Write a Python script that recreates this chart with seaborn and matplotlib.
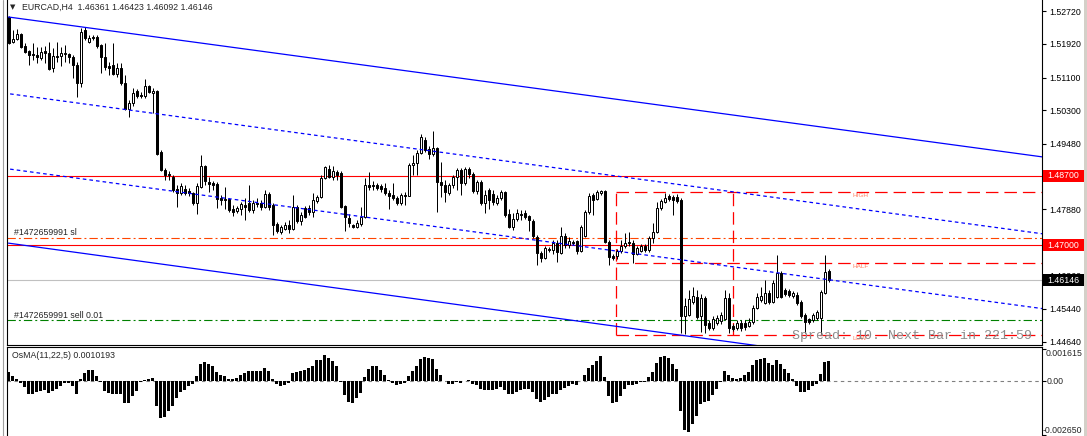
import numpy as np
import pandas as pd
import matplotlib
matplotlib.use("Agg")
import matplotlib.pyplot as plt
import matplotlib.transforms as mtransforms
from matplotlib.patches import Rectangle
from matplotlib.lines import Line2D
import seaborn as sns

# ---------------- data (EURCAD H4) ----------------
opens = [
    1.5258, 1.5197, 1.5204, 1.5216, 1.5187, 1.5175, 1.5168, 1.5165, 1.5158, 1.5175,
    1.5170, 1.5133, 1.5163, 1.5163, 1.5168, 1.5168, 1.5160, 1.5141, 1.5097, 1.5226,
    1.5197, 1.5209, 1.5209, 1.5189, 1.5160, 1.5138, 1.5141, 1.5119, 1.5133, 1.5097,
    1.5033, 1.5048, 1.5077, 1.5067, 1.5065, 1.5089, 1.5072, 1.5077, 1.4928, 1.4884,
    1.4874, 1.4867, 1.4837, 1.4828, 1.4837, 1.4833, 1.4828, 1.4803, 1.4842, 1.4894,
    1.4855, 1.4852, 1.4850, 1.4815, 1.4813, 1.4813, 1.4788, 1.4784, 1.4788, 1.4798,
    1.4803, 1.4786, 1.4803, 1.4803, 1.4793, 1.4825, 1.4798, 1.4752, 1.4732, 1.4740,
    1.4749, 1.4740, 1.4793, 1.4759, 1.4791, 1.4791, 1.4781, 1.4808, 1.4818, 1.4864,
    1.4886, 1.4867, 1.4879, 1.4877, 1.4796, 1.4766, 1.4749, 1.4744, 1.4752, 1.4769,
    1.4847, 1.4847, 1.4847, 1.4845, 1.4840, 1.4828, 1.4823, 1.4815, 1.4803, 1.4823,
    1.4820, 1.4896, 1.4901, 1.4925, 1.4957, 1.4935, 1.4923, 1.4937, 1.4855, 1.4847,
    1.4828, 1.4847, 1.4867, 1.4884, 1.4852, 1.4886, 1.4874, 1.4833, 1.4855, 1.4803,
    1.4835, 1.4825, 1.4803, 1.4815, 1.4830, 1.4776, 1.4744, 1.4764, 1.4776, 1.4779,
    1.4771, 1.4759, 1.4720, 1.4681, 1.4669, 1.4691, 1.4688, 1.4705, 1.4681, 1.4722,
    1.4700, 1.4708, 1.4710, 1.4686, 1.4722, 1.4781, 1.4823, 1.4813, 1.4828, 1.4833,
    1.4708, 1.4674, 1.4674, 1.4686, 1.4698, 1.4708, 1.4705, 1.4678, 1.4686, 1.4698,
    1.4688, 1.4718, 1.4732, 1.4791, 1.4806, 1.4820, 1.4818, 1.4818, 1.4811, 1.4527,
    1.4529, 1.4561, 1.4573, 1.4527, 1.4571, 1.4510, 1.4498, 1.4510, 1.4515, 1.4520,
    1.4571, 1.4502, 1.4498, 1.4510, 1.4510, 1.4502, 1.4512, 1.4546, 1.4566, 1.4559,
    1.4583, 1.4561, 1.4573, 1.4632, 1.4590, 1.4588, 1.4576, 1.4578, 1.4561, 1.4529,
    1.4520, 1.4517, 1.4522, 1.4522, 1.4583, 1.46361,
]
highs = [
    1.5260, 1.5226, 1.5229, 1.5219, 1.5194, 1.5177, 1.5194, 1.5185, 1.5185, 1.5187,
    1.5197, 1.5182, 1.5197, 1.5185, 1.5189, 1.5170, 1.5165, 1.5148, 1.5231, 1.5234,
    1.5214, 1.5214, 1.5214, 1.5192, 1.5194, 1.5148, 1.5194, 1.5145, 1.5145, 1.5116,
    1.5055, 1.5084, 1.5082, 1.5075, 1.5106, 1.5092, 1.5084, 1.5080, 1.4933, 1.4889,
    1.4882, 1.4872, 1.4847, 1.4852, 1.4847, 1.4840, 1.4830, 1.4852, 1.4920, 1.4896,
    1.4867, 1.4857, 1.4855, 1.4823, 1.4842, 1.4815, 1.4798, 1.4796, 1.4806, 1.4815,
    1.4847, 1.4811, 1.4815, 1.4811, 1.4835, 1.4830, 1.4803, 1.4757, 1.4749, 1.4757,
    1.4762, 1.4823, 1.4798, 1.4781, 1.4796, 1.4798, 1.4828, 1.4823, 1.4872, 1.4894,
    1.4896, 1.4894, 1.4884, 1.4882, 1.4798, 1.4776, 1.4752, 1.4762, 1.4793, 1.4864,
    1.4879, 1.4857, 1.4852, 1.4850, 1.4852, 1.4835, 1.4852, 1.4820, 1.4828, 1.4830,
    1.4901, 1.4920, 1.4933, 1.4972, 1.4964, 1.4943, 1.4979, 1.4940, 1.4903, 1.4859,
    1.4852, 1.4872, 1.4889, 1.4889, 1.4891, 1.4891, 1.4879, 1.4859, 1.4859, 1.4835,
    1.4840, 1.4835, 1.4823, 1.4835, 1.4833, 1.4788, 1.4779, 1.4788, 1.4786, 1.4786,
    1.4774, 1.4764, 1.4725, 1.4686, 1.4698, 1.4696, 1.4713, 1.4713, 1.4744, 1.4730,
    1.4720, 1.4713, 1.4713, 1.4749, 1.4786, 1.4828, 1.4828, 1.4835, 1.4835, 1.4835,
    1.4713, 1.4678, 1.4691, 1.4713, 1.4730, 1.4732, 1.4713, 1.4698, 1.4703, 1.4703,
    1.4722, 1.4754, 1.4806, 1.4813, 1.4828, 1.4825, 1.4823, 1.4825, 1.4815, 1.4571,
    1.4590, 1.4598, 1.4590, 1.4581, 1.4576, 1.4517, 1.4527, 1.4529, 1.4537, 1.4590,
    1.4583, 1.4507, 1.4517, 1.4517, 1.4517, 1.4522, 1.4554, 1.4583, 1.4598, 1.4615,
    1.4590, 1.4615, 1.4676, 1.4637, 1.4595, 1.4593, 1.4588, 1.4586, 1.4566, 1.4534,
    1.4522, 1.4534, 1.4541, 1.4590, 1.4676, 1.46423,
]
lows = [
    1.5192, 1.5194, 1.5202, 1.5182, 1.5170, 1.5141, 1.5153, 1.5145, 1.5153, 1.5145,
    1.5128, 1.5123, 1.5148, 1.5138, 1.5148, 1.5145, 1.5109, 1.5062, 1.5087, 1.5202,
    1.5194, 1.5202, 1.5182, 1.5121, 1.5128, 1.5116, 1.5116, 1.5111, 1.5092, 1.5031,
    1.5013, 1.5040, 1.5060, 1.5060, 1.5060, 1.5072, 1.5023, 1.4920, 1.4882, 1.4859,
    1.4859, 1.4830, 1.4793, 1.4823, 1.4823, 1.4820, 1.4798, 1.4776, 1.4840, 1.4847,
    1.4830, 1.4835, 1.4791, 1.4798, 1.4788, 1.4781, 1.4771, 1.4779, 1.4774, 1.4762,
    1.4781, 1.4779, 1.4793, 1.4786, 1.4791, 1.4786, 1.4725, 1.4730, 1.4727, 1.4737,
    1.4730, 1.4737, 1.4754, 1.4749, 1.4766, 1.4774, 1.4769, 1.4803, 1.4815, 1.4862,
    1.4864, 1.4859, 1.4859, 1.4791, 1.4735, 1.4744, 1.4742, 1.4742, 1.4747, 1.4766,
    1.4835, 1.4835, 1.4835, 1.4830, 1.4823, 1.4788, 1.4811, 1.4798, 1.4798, 1.4798,
    1.4820, 1.4872, 1.4872, 1.4923, 1.4928, 1.4910, 1.4918, 1.4781, 1.4818, 1.4806,
    1.4823, 1.4840, 1.4835, 1.4823, 1.4847, 1.4864, 1.4828, 1.4825, 1.4798, 1.4779,
    1.4788, 1.4798, 1.4798, 1.4811, 1.4769, 1.4742, 1.4737, 1.4759, 1.4762, 1.4764,
    1.4735, 1.4718, 1.4651, 1.4659, 1.4666, 1.4683, 1.4678, 1.4659, 1.4678, 1.4693,
    1.4693, 1.4700, 1.4678, 1.4683, 1.4720, 1.4776, 1.4774, 1.4811, 1.4823, 1.4705,
    1.4651, 1.4664, 1.4666, 1.4681, 1.4693, 1.4698, 1.4656, 1.4676, 1.4683, 1.4683,
    1.4683, 1.4705, 1.4730, 1.4786, 1.4803, 1.4808, 1.4774, 1.4803, 1.4485, 1.4483,
    1.4527, 1.4556, 1.4520, 1.4488, 1.4485, 1.4493, 1.4493, 1.4505, 1.4507, 1.4517,
    1.4485, 1.4490, 1.4493, 1.4490, 1.4493, 1.4500, 1.4507, 1.4544, 1.4561, 1.4556,
    1.4556, 1.4559, 1.4571, 1.4571, 1.4576, 1.4573, 1.4571, 1.4554, 1.4522, 1.4485,
    1.4507, 1.4512, 1.4517, 1.4483, 1.4581, 1.46092,
]
closes = [
    1.5194, 1.5204, 1.5216, 1.5185, 1.5172, 1.5165, 1.5165, 1.5160, 1.5172, 1.5170,
    1.5131, 1.5163, 1.5160, 1.5170, 1.5170, 1.5160, 1.5141, 1.5097, 1.5221, 1.5207,
    1.5207, 1.5207, 1.5187, 1.5160, 1.5136, 1.5133, 1.5119, 1.5133, 1.5097, 1.5033,
    1.5048, 1.5072, 1.5065, 1.5065, 1.5089, 1.5075, 1.5077, 1.4923, 1.4884, 1.4872,
    1.4872, 1.4835, 1.4828, 1.4845, 1.4828, 1.4828, 1.4803, 1.4845, 1.4894, 1.4857,
    1.4850, 1.4847, 1.4813, 1.4811, 1.4811, 1.4786, 1.4781, 1.4791, 1.4801, 1.4793,
    1.4786, 1.4803, 1.4801, 1.4793, 1.4825, 1.4793, 1.4749, 1.4735, 1.4744, 1.4749,
    1.4740, 1.4793, 1.4759, 1.4774, 1.4769, 1.4781, 1.4811, 1.4818, 1.4864, 1.4891,
    1.4867, 1.4882, 1.4872, 1.4793, 1.4769, 1.4754, 1.4744, 1.4754, 1.4769, 1.4847,
    1.4842, 1.4845, 1.4840, 1.4837, 1.4828, 1.4820, 1.4815, 1.4803, 1.4823, 1.4820,
    1.4896, 1.4901, 1.4925, 1.4964, 1.4933, 1.4923, 1.4937, 1.4855, 1.4847, 1.4830,
    1.4847, 1.4867, 1.4884, 1.4852, 1.4886, 1.4874, 1.4833, 1.4855, 1.4803, 1.4823,
    1.4811, 1.4806, 1.4815, 1.4830, 1.4774, 1.4744, 1.4764, 1.4779, 1.4774, 1.4769,
    1.4762, 1.4722, 1.4681, 1.4669, 1.4693, 1.4688, 1.4705, 1.4683, 1.4722, 1.4700,
    1.4710, 1.4705, 1.4686, 1.4744, 1.4781, 1.4820, 1.4811, 1.4830, 1.4833, 1.4708,
    1.4671, 1.4669, 1.4686, 1.4698, 1.4705, 1.4705, 1.4678, 1.4693, 1.4698, 1.4688,
    1.4718, 1.4732, 1.4791, 1.4808, 1.4815, 1.4813, 1.4811, 1.4808, 1.4527, 1.4551,
    1.4568, 1.4576, 1.4524, 1.4571, 1.4505, 1.4498, 1.4520, 1.4522, 1.4529, 1.4571,
    1.4498, 1.4495, 1.4510, 1.4498, 1.4500, 1.4512, 1.4546, 1.4573, 1.4576, 1.4583,
    1.4561, 1.4607, 1.4632, 1.4573, 1.4581, 1.4578, 1.4583, 1.4559, 1.4527, 1.4512,
    1.4512, 1.4529, 1.4537, 1.4586, 1.4634, 1.46146,
]
# OsMA(11,22,5) histogram, in units of 1e-4
osma_e4 = [
    4.4, 2.8, 1.1, -1.0, -3.0, -6.4, -6.4, -5.4, -4.9, -4.4,
    -5.9, -4.9, -3.9, -2.5, -1.0, -1.0, -2.5, -6.4, 1.0, 3.9,
    5.4, 5.4, 2.5, -0.5, -4.9, -5.9, -6.4, -6.4, -6.4, -10.8,
    -10.8, -7.4, -4.9, -0.5, 0.5, 1.0, 1.5, -12.3, -18.2, -17.7,
    -14.8, -12.3, -8.4, -5.4, -4.4, -2.5, -1.5, 2.5, 8.4, 9.4,
    8.4, 7.4, 4.4, 3.0, 2.5, 1.0, 1.0, 1.5, 3.0, 3.9,
    4.9, 4.9, 4.9, 4.9, 6.4, 4.9, 1.0, -1.5, -2.5, -2.0,
    -1.0, 3.9, 4.4, 4.9, 5.4, 6.4, 7.4, 10.4, 10.4, 12.8,
    11.3, 9.9, 7.4, -0.5, -6.9, -10.4, -10.8, -8.4, -5.9, 2.0,
    5.9, 7.4, 7.4, 5.4, 3.0, 0.5, -1.0, -2.0, -1.5, -1.0,
    2.5, 4.9, 7.4, 10.8, 11.8, 11.3, 10.8, 5.9, 3.0, 0.0,
    -1.5, -1.5, -0.5, -1.0, 0.0, 0.5, -1.5, -2.0, -3.9, -4.4,
    -4.4, -4.4, -3.9, -3.0, -4.4, -6.4, -6.4, -5.4, -4.4, -3.9,
    -3.9, -5.4, -8.9, -10.4, -9.4, -7.9, -6.4, -6.4, -4.4, -3.5,
    -2.5, -1.5, -2.0, 0.0, 3.0, 6.4, 7.9, 9.9, 12.3, 2.0,
    -7.4, -10.8, -10.4, -7.4, -3.9, -2.0, -2.0, -1.5, -0.5, -0.5,
    2.0, 4.4, 8.9, 11.8, 12.3, 11.3, 8.4, 5.9, -14.8, -24.2,
    -25.1, -21.2, -17.3, -11.3, -10.4, -9.9, -6.9, -3.9, -0.5, 4.9,
    3.0, 1.5, 1.0, 1.5, 3.0, 4.4, 7.9, 10.4, 10.8, 11.3,
    8.9, 7.9, 10.4, 8.4, 5.9, 3.9, 1.0, -2.5, -5.4, -5.4,
    -4.4, -2.5, -1.5, 3.5, 9.4, 10.193,
]

title_text = "EURCAD,H4  1.46361 1.46423 1.46092 1.46146"
osma_text = "OsMA(11,22,5) 0.0010193"
spread_text = "Spread: 10. Next Bar in 221:59"
price_ticks = [1.52720, 1.51920, 1.51100, 1.50300, 1.49480, 1.47880, 1.46260, 1.45440, 1.44640]
osma_ticks = [0.001615, 0.0, -0.002650]
osma_tick_labels = ["0.001615", "0.00", "-0.002650"]
level_high = 1.48700
level_low = 1.47000
bid_price = 1.46146
sl_price = 1.4718
sl_label = "#1472659991 sl"
order_price = 1.4517
order_label = "#1472659991 sell 0.01"
box_high, box_half, box_low = 1.4830, 1.4656, 1.4480
box_bar_start, box_bar_end = 151.9, 181.2
box_labels = ["HIGH", "HALF", "LOW"]
# channel anchors (bar index, price)
chan_upper = ([0.0, 258.4], [1.5258, 1.4916])
chan_mid = ([0.4, 258.4], [1.5070, 1.4728])
chan_mid2 = ([0.4, 258.4], [1.4886, 1.4545])
chan_lower = ([0.0, 258.4], [1.4705, 1.4359])

# ---------------- style ----------------
sns.set_theme(style="white")
plt.rcParams["font.family"] = ["Liberation Sans", "DejaVu Sans"]
plt.rcParams["lines.scale_dashes"] = False

W, H = 1087, 436
PRICE_TOP = 1.52996
PRICE_PER_PX = 0.00024455
OSMA_PER_PX = 0.0000493
PX1 = 0.72  # one pixel in points


def fx(px):
    return px / W


def fy(py):
    return 1 - py / H


fig = plt.figure(figsize=(W / 100, H / 100), dpi=100)
fig.patch.set_facecolor("white")

ax = fig.add_axes([fx(6.5), fy(344.5), fx(1042) - fx(6.5), 344.5 / H])
ax2 = fig.add_axes([fx(6.5), 0, fx(1042) - fx(6.5), (H - 346.5) / H])

xl = ((6.5 - 8.5) / 4, (1042 - 8.5) / 4)

# ---------------- candles ----------------
n = len(closes)
idx = np.arange(n)
o = np.array(opens)
c = np.array(closes)
h = np.array(highs)
l = np.array(lows)
bull = c >= o
ax.vlines(idx, l, h, color="black", lw=PX1, zorder=3)
ax.bar(idx, np.abs(c - o), bottom=np.minimum(o, c), width=0.5,
       color=np.where(bull, "white", "black"), edgecolor="black",
       linewidth=PX1, zorder=4)

# ---------------- objects ----------------
blue = "#0000FF"
ax.plot(*chan_upper, color=blue, lw=0.9, zorder=5)
ax.plot(*chan_lower, color=blue, lw=0.9, zorder=5)
ax.plot(*chan_mid, color=blue, lw=0.9, ls=(0, (2.6, 2.2)), zorder=5)
ax.plot(*chan_mid2, color=blue, lw=0.9, ls=(0, (2.6, 2.2)), zorder=5)

ax.axhline(level_high, color="#FF0000", lw=0.8, zorder=2)
ax.axhline(level_low, color="#FF0000", lw=0.8, zorder=2)
ax.axhline(bid_price, color="#C0C0C0", lw=0.8, zorder=1)
dashdot = (0, (6.0, 2.2, 1.4, 2.2))
ax.axhline(sl_price, color="#FF4500", lw=0.8, ls=dashdot, zorder=2)
ax.axhline(order_price, color="#008000", lw=0.8, ls=dashdot, zorder=2)

red_dash = (0, (9.0, 4.3))
for p in (box_high, box_half, box_low):
    ax.hlines(p, box_bar_start, xl[1] + 5, color="#FF0000", lw=0.9, ls=red_dash, zorder=2)
for b in (box_bar_start, box_bar_end):
    ax.vlines(b, box_low, box_high, color="#FF0000", lw=0.9, ls=red_dash, zorder=2)
for p, lab in zip((box_high, box_half, box_low), box_labels):
    ax.text(211, p - 1.0 * PRICE_PER_PX, lab, fontsize=4.6, color="#FF7F60",
            va="top", ha="left", zorder=6)

ax.set_xlim(*xl)
ax.set_ylim(PRICE_TOP - 344.5 * PRICE_PER_PX, PRICE_TOP)

# axes styling
for a in (ax, ax2):
    for s in a.spines.values():
        s.set_color("black")
        s.set_linewidth(0.8)
    a.set_xticks([])
    a.set_xlabel("")
    a.set_ylabel("")
    a.set_facecolor("white")
ax.spines["top"].set_visible(False)
ax2.spines["bottom"].set_visible(False)

ax.yaxis.tick_right()
ax.set_yticks(price_ticks)
ax.set_yticklabels([f"{v:.5f}" for v in price_ticks])
ax.tick_params(axis="y", right=True, left=False, length=3, width=0.8,
               pad=2, labelsize=6.3, colors="black", direction="out")

# ---------------- OsMA pane (seaborn) ----------------
osma_df = pd.DataFrame({"bar": idx, "osma": np.array(osma_e4) * 1e-4})
ax2.axhline(0, color="#808080", lw=0.8, ls=(0, (2.5, 2.5)), zorder=0.5)
sns.barplot(data=osma_df, x="bar", y="osma", native_scale=True, color="black",
            saturation=1, width=0.75, errorbar=None, ax=ax2,
            edgecolor="black", linewidth=0, zorder=2)
ax2.set_xlim(*xl)
ax2.set_ylim(-(436 - 381.3) * OSMA_PER_PX, (381.3 - 346.5) * OSMA_PER_PX)
ax2.set_xticks([])
ax2.set_xlabel("")
ax2.set_ylabel("")
ax2.yaxis.tick_right()
ax2.set_yticks(osma_ticks)
ax2.set_yticklabels([])
ax2.tick_params(axis="y", right=True, left=False, length=3, width=0.8,
                colors="black", direction="out")

# ---------------- texts ----------------
fs = 6.3
fig.text(fx(10), fy(7.2), "\u25BC", family="DejaVu Sans", fontsize=5, va="center", ha="left")
fig.text(fx(22), fy(7.5), title_text, fontsize=fs, va="center", ha="left")
fig.text(fx(14), fy(232.5), sl_label, fontsize=fs, va="center", ha="left")
fig.text(fx(14), fy(315), order_label, fontsize=fs, va="center", ha="left")
fig.text(fx(12), fy(355.5), osma_text, fontsize=fs, va="center", ha="left")
fig.text(fx(792), fy(336), spread_text, family="Liberation Mono", fontsize=9.6,
         color="#8C8C8C", va="center", ha="left")

fig.text(fx(1046), fy(349), osma_tick_labels[0], fontsize=fs, va="top", ha="left")
fig.text(fx(1047), fy(381.3), osma_tick_labels[1], fontsize=fs, va="center", ha="left")
fig.text(fx(1043), fy(430), osma_tick_labels[2], fontsize=fs, va="center", ha="left")

# price label boxes
trans = mtransforms.blended_transform_factory(fig.transFigure, ax.transData)
for price, bg in ((level_high, "#FF0000"), (level_low, "#FF0000"), (bid_price, "black")):
    fig.add_artist(Rectangle((fx(1043), price - 6 * PRICE_PER_PX), fx(41), 12 * PRICE_PER_PX,
                             transform=trans, facecolor=bg, edgecolor="none",
                             clip_on=False, zorder=5))
    t = fig.text(0, 0, f"{price:.5f}", fontsize=fs, color="white", va="center",
                 ha="left", zorder=6)
    t.set_transform(trans)
    t.set_position((fx(1047), price))

# window borders
fig.add_artist(Line2D([fx(3), fx(3)], [0, 1], color="#A0A0A0", lw=0.8, transform=fig.transFigure))
fig.add_artist(Rectangle((fx(1084), 0), fx(3), 1, transform=fig.transFigure,
                         facecolor="#D4D0C8", edgecolor="none"))

fig.savefig("out.png", dpi=100, facecolor="white")
